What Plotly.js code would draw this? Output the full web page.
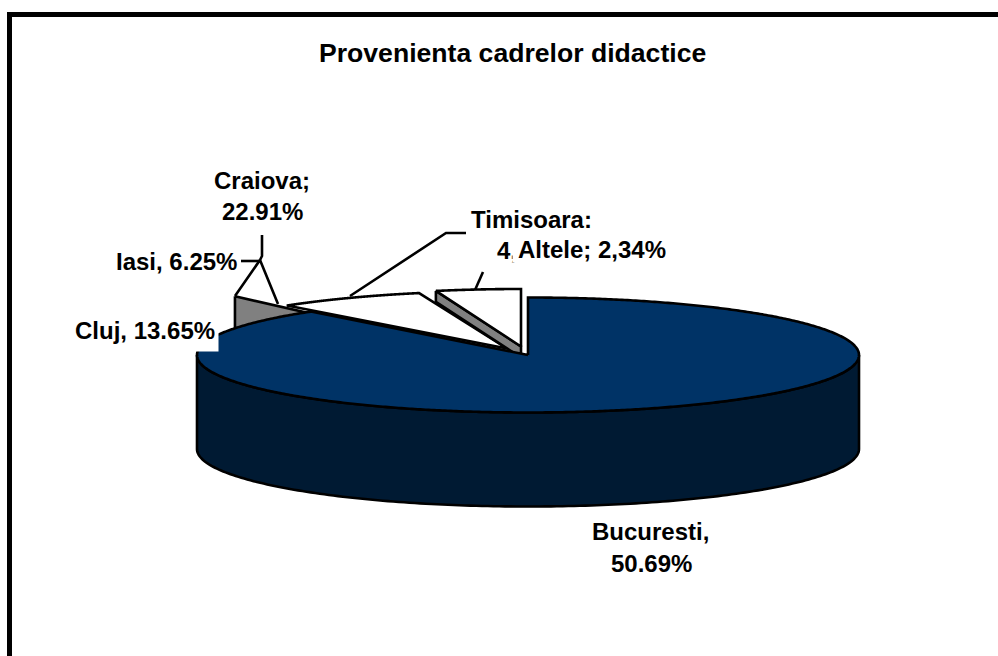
<!DOCTYPE html>
<html>
<head>
<meta charset="utf-8">
<script src="https://cdn.plot.ly/plotly-3.0.1.min.js"></script>
<style>html,body{margin:0;padding:0;background:#fff;overflow:hidden}</style>
</head>
<body>
<div id="chart" style="width:998px;height:656px"></div>
<script>
// ---- data ----
var categories = ["Bucuresti", "Cluj", "Iasi", "Craiova", "Timisoara", "Altele"];
var percentages = ["50.69%", "13.65%", "6.25%", "22.91%", "4,16%", "2,34%"];
var chartTitle = "Provenienta cadrelor didactice";

// Drawn slices (rim angles in degrees, as seen in the picture, counter-clockwise from east)
var sliceNames   = ["Craiova", "Altele", "Bucuresti"];
var sliceFrom    = [105.4, 90, 131];
var sliceTo      = [131.7, 104.9, 450];
var sliceCentreX = [507, 521, 528];
var sliceCentreY = [348.5, 346.5, 355];

// ---- drawing scale ----
var RX = 331, RY = 57.5, DEPTH = 94, LW = 2.6;
var BLUE = "#003366", DARK = "#001a33", GREY = "#808080", INK = "#000000";

function rim(cx, cy, deg) {
  var a = deg * Math.PI / 180;
  return [cx + RX * Math.cos(a), cy - RY * Math.sin(a)];
}
function poly(pts, fill, w) {
  return {
    type: "scatter", mode: "lines", hoverinfo: "skip", showlegend: false,
    x: pts.map(function (p) { return p[0]; }),
    y: pts.map(function (p) { return p[1]; }),
    fill: fill ? "toself" : "none", fillcolor: fill || undefined,
    line: { color: INK, width: w || LW, simplify: false }
  };
}
function sector(i, fill) {
  var cx = sliceCentreX[i], cy = sliceCentreY[i], pts = [[cx, cy]];
  var a = sliceFrom[i], b = sliceTo[i];
  for (var k = 0; k <= 400; k++) pts.push(rim(cx, cy, a + (b - a) * k / 400));
  pts.push([cx, cy]);
  return poly(pts, fill);
}
function radialWall(cx, cy, deg, depth, fill) {
  var p = rim(cx, cy, deg);
  return poly([p, [p[0], p[1] + depth], [cx, cy + depth], [cx, cy], p], fill);
}
function sideWall(cx, cy, depth, fill) {
  var pts = [], k;
  for (k = 0; k <= 180; k++) pts.push(rim(cx, cy, 180 + k));
  for (k = 180; k >= 0; k--) { var p = rim(cx, cy, 180 + k); pts.push([p[0], p[1] + depth]); }
  pts.push(pts[0]);
  return poly(pts, fill);
}

var traces = [];
// grey side face behind the big slice (Cluj / Iasi)
traces.push(radialWall(436, 342, 127.4, 50, GREY));
// Craiova top (white)
traces.push(sector(0, "#ffffff"));
// Altele side face and top
traces.push(radialWall(sliceCentreX[1], sliceCentreY[1], sliceTo[1], 11, GREY));
traces.push(sector(1, "#ffffff"));
// big slice: side wall then top
traces.push(sideWall(sliceCentreX[2], sliceCentreY[2], DEPTH, DARK));
// top face: clockwise from 12 o'clock round to the back left
(function () {
  var cx = sliceCentreX[2], cy = sliceCentreY[2], pts = [[cx, cy]];
  for (var d = 90; d >= 131 - 360; d -= 0.5) pts.push(rim(cx, cy, d));
  pts.push([cx, cy]);
  traces.push(poly(pts, BLUE));
})();

// leader lines
var leaderCraiova = [[278, 304], [260, 260], [235, 296]];
var leaderCraiovaUp = [[260, 260], [262, 256], [262, 235]];
var leaderIasi = [[241, 261], [260, 261]];
var leaderTimisoara = [[350, 296], [446, 233], [466, 233]];
var leaderAltele = [[475, 290], [483, 272]];
[leaderCraiova, leaderCraiovaUp, leaderIasi, leaderTimisoara, leaderAltele].forEach(function (l) {
  traces.push(poly(l));
});
// frame
traces.push(poly([[9.5, 660], [9.5, 14.5], [1002, 14.5]], null, 5));

var F = "Liberation Sans, Arial, sans-serif";
function label(x, y, text, extra) {
  var a = {
    x: x, y: y, xref: "x", yref: "y", text: "<b>" + text + "</b>", showarrow: false,
    xanchor: "center", yanchor: "middle",
    font: { family: F, size: 24, color: "#000" }, borderpad: 0
  };
  for (var k in extra) a[k] = extra[k];
  return a;
}
var annotations = [
  label(512.5, 53, chartTitle, { font: { family: F, size: 26.6, color: "#000" } }),
  label(262, 180, categories[3] + ";"),
  label(262, 211, percentages[3]),
  label(531, 219, categories[4] + ":"),
  label(531, 250, percentages[4]),
  label(512, 249, categories[5] + "; " + percentages[5], {
    xanchor: "left", bgcolor: "#ffffff", width: 153, align: "right", height: 26
  }),
  label(238, 261, categories[2] + ", " + percentages[2], { xanchor: "right" }),
  label(219, 330, categories[1] + ", " + percentages[1], {
    xanchor: "right", bgcolor: "#ffffff", borderpad: 3, height: 36
  }),
  label(650, 531, categories[0] + ","),
  label(651, 563, percentages[0])
];

var layout = {
  width: 998, height: 656,
  margin: { l: 0, r: 0, t: 0, b: 0, pad: 0 },
  paper_bgcolor: "#ffffff", plot_bgcolor: "#ffffff",
  showlegend: false,
  xaxis: { range: [0, 998], visible: false, fixedrange: true },
  yaxis: { range: [656, 0], visible: false, fixedrange: true },
  annotations: annotations
};
Plotly.newPlot("chart", traces, layout, { displayModeBar: false, staticPlot: true });
</script>
</body>
</html>
